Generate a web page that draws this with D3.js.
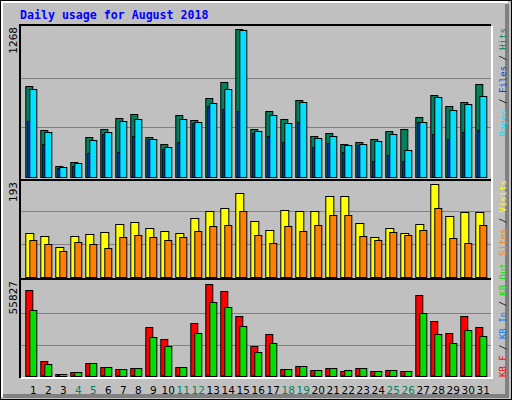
<!DOCTYPE html>
<html><head><meta charset="utf-8">
<script src="https://cdn.jsdelivr.net/npm/d3@7"></script>
<style>body{margin:0;background:#fff}</style>
</head><body>
<script>
var days = d3.range(1, 32);
var weekend = [4, 5, 11, 12, 18, 19, 25, 26];
var hits  = [775,397,89,123,340,406,503,537,340,278,529,483,672,809,1268,406,560,492,657,346,372,278,295,320,389,406,509,697,603,637,792];
var files = [749,380,80,115,312,380,477,494,320,254,494,466,629,752,1255,389,526,458,637,329,346,269,278,303,363,226,466,686,569,620,689];
var pages = [477,280,75,92,203,366,212,349,320,237,297,460,603,580,563,375,349,297,469,254,289,212,272,135,186,135,466,366,325,383,400];
var visits = [85,79,57,79,83,87,102,106,94,89,85,114,129,133,163,108,92,131,128,129,157,157,104,77,94,85,102,180,118,126,126];
var sites  = [71,63,50,67,63,55,77,81,77,71,77,90,98,100,129,81,65,98,89,100,120,120,79,71,87,81,92,133,75,65,100];
var kbF   = [50900,8580,830,2030,7400,5000,3800,4400,28800,21700,5000,31200,54500,50300,35400,17500,24700,3800,5600,3200,4400,2600,4400,2600,3200,2600,47900,32400,25300,35400,28800];
var kbOut = [39000,6790,800,2030,7400,5000,3800,4400,22900,17500,5000,25300,43700,40800,29400,13900,19300,3800,5600,3200,4400,3200,4400,2600,3200,2600,37200,24700,19300,27000,23500];
var kbIn  = days.map(function(){ return 400; });
var maxLabels = ["1268", "193", "55827"];

var svg = d3.select("body").append("svg").attr("width", 512).attr("height", 400);
svg.append("rect").attr("width", 512).attr("height", 400).attr("fill", "#c0c0c0");
// outer 3d frame
svg.append("rect").attr("x", 0.5).attr("y", 0.5).attr("width", 511).attr("height", 399).attr("fill", "none").attr("stroke", "#000");
svg.append("path").attr("d", "M2,397V2H508").attr("stroke", "#fff").attr("stroke-width", 2).attr("fill", "none");
svg.append("path").attr("d", "M3,396H507V4").attr("stroke", "#808080").attr("stroke-width", 4).attr("fill", "none");

svg.append("text").attr("x", 20).attr("y", 19).text("Daily usage for August 2018")
    .attr("font-family", "DejaVu Sans Mono").attr("font-weight", "bold").attr("font-size", 11.6).attr("fill", "#0000ff");

var x = d3.scaleLinear().domain([1, 31]).range([25.3, 475.3]);

var panels = [
    {top: 25, bottom: 180, base: 176.7, span: 148, max: 1268},
    {top: 180, bottom: 279, base: 276.7, span: 99, max: 193},
    {top: 279, bottom: 378, base: 375.7, span: 93.6, max: 55827}
];

panels.forEach(function(p, i) {
    svg.append("path").attr("d", "M20," + p.bottom + "V" + p.top + "H491").attr("stroke", "#000").attr("stroke-width", 2).attr("fill", "none");
    svg.append("path").attr("d", "M21," + (p.bottom) + "H492V" + (p.top + 1)).attr("stroke", "#fff").attr("stroke-width", 2).attr("fill", "none");
    [1, 2].forEach(function(k) {
        var gy = Math.round(p.base - p.span * k / 3) + 0.5;
        svg.append("line").attr("x1", 21).attr("x2", 491).attr("y1", gy).attr("y2", gy).attr("stroke", "#808080");
    });
    svg.append("text").attr("transform", "translate(17," + (p.top + 2) + ") rotate(-90)")
        .attr("text-anchor", "end").attr("font-family", "DejaVu Sans").attr("font-size", 10.5).text(maxLabels[i]);
});

function yScale(p) {
    return d3.scaleLinear().domain([0, p.max]).range([p.base, p.base - p.span]);
}

function bars(data, p, dx, w, color) {
    var y = yScale(p);
    svg.append("g").selectAll("rect").data(data).enter().append("rect")
        .attr("x", function(d, i) { return x(i + 1) + dx + 0.5; })
        .attr("y", function(d) { return Math.round(y(d)) + 0.5; })
        .attr("width", w)
        .attr("height", function(d) { return Math.max(0, Math.round(p.base) - Math.round(y(d))); })
        .attr("fill", color).attr("stroke", "#000").attr("stroke-width", 1);
}

bars(hits, panels[0], 0, 7, "#00805c");
bars(pages, panels[0], 2, 6, "#0040ff");
bars(files, panels[0], 4, 7, "#00e0ff");
bars(visits, panels[1], 0, 8, "#ffff00");
bars(sites, panels[1], 4, 7, "#ff8000");
bars(kbF, panels[2], 0, 7, "#ff0000");
bars(kbIn, panels[2], 2, 1, "#0080ff");
bars(kbOut, panels[2], 4, 7, "#00e000");

svg.append("g").selectAll("text").data(days).enter().append("text")
    .attr("x", function(d) { return x(d) + 8; }).attr("y", 394)
    .attr("text-anchor", "middle").attr("font-family", "DejaVu Sans").attr("font-size", 10.5)
    .attr("fill", function(d) { return weekend.indexOf(d) >= 0 ? "#00805c" : "#000"; })
    .text(function(d) { return d; });

function legend(y, anchor, parts) {
    var t = svg.append("text").attr("transform", "translate(506," + y + ") rotate(-90)")
        .attr("text-anchor", anchor).attr("font-family", "DejaVu Sans Mono").attr("font-size", 9);
    parts.forEach(function(q) { t.append("tspan").attr("fill", q[1]).text(q[0]); });
}
legend(28, "end", [["Pages", "#00e0ff"], [" / ", "#000"], ["Files", "#0040ff"], [" / ", "#000"], ["Hits", "#00805c"]]);
legend(180, "end", [["Sites", "#ff8000"], [" / ", "#000"], ["Visits", "#ffff00"]]);
legend(377, "start", [["KB F", "#ff0000"], [" / ", "#000"], ["KB In", "#0080ff"], [" / ", "#000"], ["KB Out", "#00e000"]]);
</script>
</body></html>
